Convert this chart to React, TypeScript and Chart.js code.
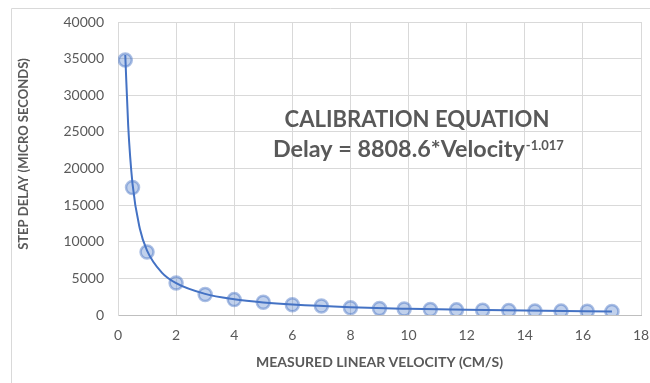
import React, { useEffect, useRef } from "react";
import { Chart, registerables } from "chart.js";

Chart.register(...registerables);

// Measured data points
const velocity = [0.25, 0.5, 1, 2, 3, 4, 5, 6, 7, 8, 9, 9.85, 10.75, 11.65, 12.55, 13.45, 14.35, 15.25, 16.15, 17];
const delay = [34800, 17400, 8600, 4370, 2800, 2100, 1750, 1400, 1230, 1000, 880, 830, 760, 700, 660, 620, 560, 530, 510, 490];

// Trendline (power fit)
const trendVelocity = [0.25, 0.35, 0.5, 0.75, 1, 1.5, 2, 3, 4, 5, 6, 8, 10, 12, 14, 17];
const trendDelay = [35500, 25900, 17900, 11800, 8800, 5830, 4350, 2880, 2150, 1710, 1420, 1060, 850, 700, 600, 490];

const xTicks = [0, 2, 4, 6, 8, 10, 12, 14, 16, 18];
const yTicks = [0, 5000, 10000, 15000, 20000, 25000, 30000, 35000, 40000];

const annotationTitle = "CALIBRATION EQUATION";
const annotationEq = "Delay = 8808.6*Velocity";
const annotationExp = "-1.017";
const xTitle = "MEASURED LINEAR VELOCITY (CM/S)";
const yTitle = "STEP DELAY (MICRO SECONDS)";

const TEXT = "#595959";
const GRID = "#d9d9d9";
const BLUE = "rgb(68,114,196)";

function fitFont(ctx: CanvasRenderingContext2D, text: string, base: number, target: number) {
  ctx.font = `bold ${base}px Lato`;
  const w = ctx.measureText(text).width;
  const size = (base * target) / w;
  ctx.font = `bold ${size}px Lato`;
  return size;
}

export default function App() {
  const ref = useRef<HTMLCanvasElement | null>(null);

  useEffect(() => {
    if (!ref.current) return;
    const decor = {
      id: "decor",
      beforeDraw(chart: any) {
        const ctx = chart.ctx;
        ctx.save();
        ctx.strokeStyle = GRID;
        ctx.lineWidth = 1;
        ctx.beginPath();
        ctx.moveTo(11.5, 383);
        ctx.lineTo(11.5, 8.5);
        ctx.lineTo(650, 8.5);
        ctx.stroke();
        ctx.restore();
      },
      afterDraw(chart: any) {
        const ctx = chart.ctx;
        ctx.save();
        // y title
        ctx.fillStyle = TEXT;
        ctx.textAlign = "center";
        ctx.textBaseline = "middle";
        ctx.translate(24, 154);
        ctx.rotate(-Math.PI / 2);
        fitFont(ctx, yTitle, 12, 192);
        ctx.fillText(yTitle, 0, 0);
        ctx.restore();

        ctx.save();
        ctx.fillStyle = TEXT;
        ctx.textBaseline = "alphabetic";
        ctx.textAlign = "center";
        fitFont(ctx, annotationTitle, 22, 265);
        ctx.fillText(annotationTitle, 417, 127);
        ctx.textAlign = "left";
        fitFont(ctx, annotationEq, 22, 252);
        ctx.fillText(annotationEq, 273, 157);
        const endX = 273 + ctx.measureText(annotationEq).width;
        ctx.font = "bold 13px Lato";
        ctx.fillText(annotationExp, endX + 1, 150);
        ctx.restore();
      },
    };

    const chart = new Chart(ref.current, {
      type: "scatter",
      data: {
        datasets: [
          {
            label: "Trend",
            data: trendVelocity.map((x, i) => ({ x, y: trendDelay[i] })),
            showLine: true,
            borderColor: BLUE,
            borderWidth: 2,
            pointRadius: 0,
            cubicInterpolationMode: "monotone",
            fill: false,
          } as any,
          {
            label: "Measured",
            data: velocity.map((x, i) => ({ x, y: delay[i] })),
            backgroundColor: "rgba(68,114,196,0.33)",
            borderColor: "rgba(68,114,196,0.45)",
            borderWidth: 2.5,
            pointRadius: 6.5,
          },
        ],
      },
      options: {
        responsive: false,
        animation: false,
        layout: { padding: { top: 22, right: 9, left: 0, bottom: 0 } },
        plugins: { legend: { display: false }, tooltip: { enabled: false } },
        scales: {
          x: {
            type: "linear",
            min: 0,
            max: 18,
            afterBuildTicks: (s: any) => {
              s.ticks = xTicks.map((v) => ({ value: v }));
            },
            afterFit: (s: any) => {
              s.height = 68;
              s.paddingLeft = 0;
              s.paddingRight = 0;
            },
            ticks: { color: TEXT, font: { family: "Lato", size: 14 }, padding: 12, callback: (v: any) => String(v) },
            grid: { color: GRID, drawTicks: false },
            border: { color: "#bfbfbf" },
            title: {
              display: true,
              text: xTitle,
              color: TEXT,
              font: { family: "Lato", size: 14, weight: "bold" },
              padding: { top: 0, bottom: 12 },
            },
          },
          y: {
            type: "linear",
            min: 0,
            max: 40000,
            afterBuildTicks: (s: any) => {
              s.ticks = yTicks.map((v) => ({ value: v }));
            },
            afterFit: (s: any) => {
              s.width = 118;
              s.paddingTop = 0;
              s.paddingBottom = 0;
            },
            ticks: { color: TEXT, font: { family: "Lato", size: 14 }, padding: 14, callback: (v: any) => String(v) },
            grid: { color: GRID, drawTicks: false },
            border: { color: GRID },
          },
        },
      },
      plugins: [decor],
    });
    return () => chart.destroy();
  }, []);

  return (
    <div style={{ position: "absolute", left: 0, top: 0, width: 650, height: 383, background: "#fff" }}>
      <canvas ref={ref} width={650} height={383} />
    </div>
  );
}
